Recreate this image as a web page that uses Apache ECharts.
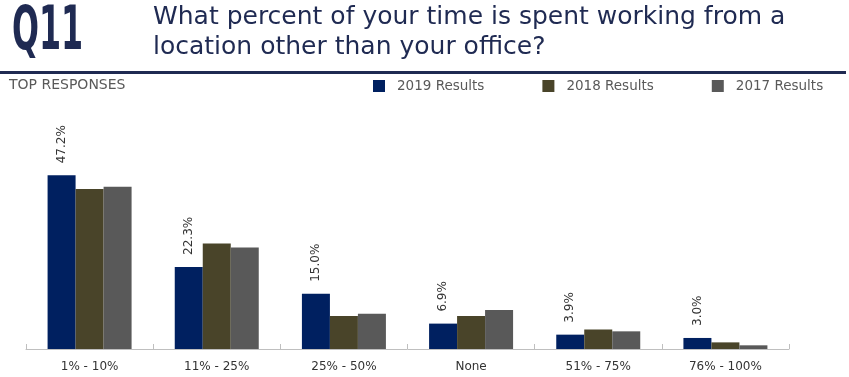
<!DOCTYPE html>
<html>
<head>
<meta charset="utf-8">
<script src="https://cdn.jsdelivr.net/npm/echarts@6/dist/echarts.min.js"></script>
<style>
  html, body { margin: 0; padding: 0; background: #fff; }
  #chart { width: 849px; height: 377px; }
</style>
</head>
<body>
<div id="chart"></div>
<script>
// 数据
const categories = ['1% - 10%', '11% - 25%', '25% - 50%', 'None', '51% - 75%', '76% - 100%']
const results2019 = [47.2, 22.3, 15.0, 6.9, 3.9, 3.0]
const results2018 = [43.5, 28.7, 9.0, 9.0, 5.3, 1.8]
const results2017 = [44.1, 27.6, 9.6, 10.6, 4.8, 1.0]
const seriesNames = ['2019 Results', '2018 Results', '2017 Results']

const navy = '#1f2a52'
const colors = ['#002060', '#494429', '#595959']
const font = "'DejaVu Sans', Verdana, sans-serif"

const chart = echarts.init(document.getElementById('chart'))

function barSeries(name, data, color, withLabel) {
  return {
    name: name,
    type: 'bar',
    data: data,
    barWidth: 28,
    barGap: '0%',
    itemStyle: { color: color },
    label: {
      show: withLabel,
      position: 'top',
      rotate: 90,
      align: 'left',
      verticalAlign: 'middle',
      distance: 12,
      formatter: p => p.value.toFixed(1) + '%',
      color: '#333',
      fontSize: 12,
      fontFamily: font,
    },
  }
}

chart.setOption({
  animation: false,
  textStyle: { fontFamily: font },
  grid: { left: 26, right: 60, top: 165, bottom: 28 },
  legend: {
    data: seriesNames,
    left: 373,
    top: 79,
    padding: 0,
    icon: 'rect',
    itemWidth: 12,
    itemHeight: 12,
    itemGap: 58,
    textStyle: { color: '#595959', fontSize: 13.5, fontFamily: font, padding: [0, 0, 0, 7] },
  },
  graphic: [
    {
      type: 'text',
      left: 12,
      top: 4,
      scaleY: 1.66,
      scaleX: 0.98,
      style: {
        text: 'Q11',
        fill: navy,
        font: "bold 36px 'Liberation Sans Narrow', 'DejaVu Sans Condensed', 'DejaVu Sans'",
      },
    },
    {
      type: 'text',
      left: 153,
      top: 2,
      style: {
        text: 'What percent of your time is spent working from a\nlocation other than your office?',
        fill: navy,
        fontSize: 25,
        lineHeight: 30,
        fontFamily: font,
      },
    },
    {
      type: 'rect',
      shape: { x: 0, y: 71, width: 846, height: 3 },
      style: { fill: navy },
    },
    {
      type: 'text',
      left: 9,
      top: 78,
      style: { text: 'TOP RESPONSES', fill: '#595959', fontSize: 14, fontFamily: font },
    },
  ],
  xAxis: {
    type: 'category',
    data: categories,
    axisLine: { lineStyle: { color: '#bfbfbf', width: 1 } },
    axisTick: { show: true, inside: true, length: 5, lineStyle: { color: '#bfbfbf' } },
    axisLabel: { color: '#333', fontSize: 12, margin: 12, interval: 0 },
  },
  yAxis: {
    type: 'value',
    min: 0,
    max: 50,
    show: false,
    splitLine: { show: false },
  },
  series: [
    barSeries(seriesNames[0], results2019, colors[0], true),
    barSeries(seriesNames[1], results2018, colors[1], false),
    barSeries(seriesNames[2], results2017, colors[2], false),
  ],
})
</script>
</body>
</html>
